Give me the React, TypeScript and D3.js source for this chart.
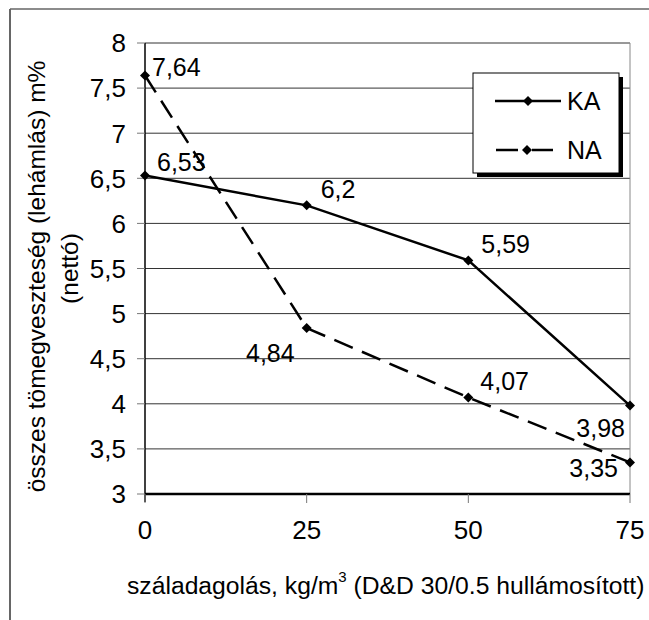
import React from "react";
import * as d3 from "d3";

const doses = [0, 25, 50, 75];
const kaValues = [6.53, 6.2, 5.59, 3.98];
const naValues = [7.64, 4.84, 4.07, 3.35];
const kaLabels = ["6,53", "6,2", "5,59", "3,98"];
const naLabels = ["7,64", "4,84", "4,07", "3,35"];
const yTicks = [3, 3.5, 4, 4.5, 5, 5.5, 6, 6.5, 7, 7.5, 8];
const xTicks = [0, 25, 50, 75];
const seriesNames = ["KA", "NA"];

const W = 649;
const H = 620;
const left = 145;
const right = 630;
const top = 43;
const bottom = 494;
const FONT = "Arial, 'Liberation Sans', sans-serif";

// label offsets [dx, dy, anchor]
const kaOffsets: [number, number, string][] = [
  [12, -5, "start"],
  [14, -7, "start"],
  [13, -7, "start"],
  [-5, 31, "end"],
];
const naOffsets: [number, number, string][] = [
  [7, 1, "start"],
  [-12, 34, "end"],
  [12, -7, "start"],
  [-12, 15, "end"],
];

function Diamond({ cx, cy }: { cx: number; cy: number }) {
  const s = 5;
  return (
    <path
      d={`M${cx},${cy - s}L${cx + s},${cy}L${cx},${cy + s}L${cx - s},${cy}Z`}
      fill="#000"
    />
  );
}

export default function App() {
  const x = d3.scaleLinear().domain([0, 75]).range([left, right]);
  const y = d3.scaleLinear().domain([3, 8]).range([bottom, top]);
  const line = d3
    .line<number>()
    .x((_, i) => x(doses[i]))
    .y((v) => y(v));

  const fmt = (v: number) => String(v).replace(".", ",");

  return (
    <svg
      width={W}
      height={H}
      style={{ position: "absolute", left: 0, top: 0, background: "#fff" }}
      fontFamily={FONT}
    >
      <rect x={0} y={0} width={W} height={H} fill="#fff" />
      {/* outer frame */}
      <line x1={10} y1={9} x2={W} y2={9} stroke="#666" strokeWidth={1.5} />
      <line x1={10} y1={9} x2={10} y2={H} stroke="#666" strokeWidth={2} />

      {/* gridlines */}
      {yTicks.map((t) => (
        <line
          key={"g" + t}
          x1={left}
          x2={right}
          y1={y(t)}
          y2={y(t)}
          stroke="#333"
          strokeWidth={1}
        />
      ))}
      {/* right plot border */}
      <line x1={right} x2={right} y1={top} y2={bottom} stroke="#888" strokeWidth={1} />

      {/* y axis */}
      <line x1={left} x2={left} y1={top} y2={bottom + 8} stroke="#000" strokeWidth={1.5} />
      {yTicks.map((t) => (
        <g key={"yt" + t}>
          <line x1={137} x2={left} y1={y(t)} y2={y(t)} stroke="#777" strokeWidth={1} />
          <text
            x={126}
            y={y(t)}
            dy="0.36em"
            textAnchor="end"
            fontSize={26}
            fill="#000"
          >
            {fmt(t)}
          </text>
        </g>
      ))}

      {/* x axis */}
      <line x1={left} x2={right} y1={bottom} y2={bottom} stroke="#000" strokeWidth={2.5} />
      {xTicks.map((t) => (
        <g key={"xt" + t}>
          <line x1={x(t)} x2={x(t)} y1={bottom} y2={bottom + 9} stroke="#777" strokeWidth={1} />
          <text x={x(t)} y={539} textAnchor="middle" fontSize={26} fill="#000">
            {t}
          </text>
        </g>
      ))}

      {/* series */}
      <path d={line(kaValues) || ""} fill="none" stroke="#000" strokeWidth={2.5} />
      <path
        d={line(naValues) || ""}
        fill="none"
        stroke="#000"
        strokeWidth={2.5}
        strokeDasharray="20,10"
      />
      {kaValues.map((v, i) => (
        <Diamond key={"kd" + i} cx={x(doses[i])} cy={y(v)} />
      ))}
      {naValues.map((v, i) => (
        <Diamond key={"nd" + i} cx={x(doses[i])} cy={y(v)} />
      ))}

      {/* data labels */}
      {kaValues.map((v, i) => (
        <text
          key={"kl" + i}
          x={x(doses[i]) + kaOffsets[i][0]}
          y={y(v) + kaOffsets[i][1]}
          textAnchor={kaOffsets[i][2] as any}
          fontSize={25}
          fill="#000"
        >
          {kaLabels[i]}
        </text>
      ))}
      {naValues.map((v, i) => (
        <text
          key={"nl" + i}
          x={x(doses[i]) + naOffsets[i][0]}
          y={y(v) + naOffsets[i][1]}
          textAnchor={naOffsets[i][2] as any}
          fontSize={25}
          fill="#000"
        >
          {naLabels[i]}
        </text>
      ))}

      {/* legend */}
      <rect x={477} y={77} width={146} height={100} fill="#000" />
      <rect x={473} y={73} width={146} height={100} fill="#fff" stroke="#000" strokeWidth={1} />
      <line x1={495} x2={561} y1={101} y2={101} stroke="#000" strokeWidth={2.5} />
      <Diamond cx={528} cy={101} />
      <text x={567} y={101} dy="0.36em" fontSize={25} fill="#000">
        {seriesNames[0]}
      </text>
      <line x1={496} x2={518} y1={150} y2={150} stroke="#000" strokeWidth={2.5} />
      <line x1={532} x2={553} y1={150} y2={150} stroke="#000" strokeWidth={2.5} />
      <Diamond cx={527} cy={150} />
      <text x={567} y={150} dy="0.36em" fontSize={25} fill="#000">
        {seriesNames[1]}
      </text>

      {/* y axis title */}
      <text
        transform={`translate(36,${(top + bottom) / 2 + 8}) rotate(-90)`}
        textAnchor="middle"
        dy="0.36em"
        fontSize={24.5}
        fill="#000"
      >
        összes tömegveszteség (lehámlás) m%
      </text>
      <text
        transform={`translate(69,${(top + bottom) / 2}) rotate(-90)`}
        textAnchor="middle"
        dy="0.36em"
        fontSize={24.5}
        fill="#000"
      >
        (nettó)
      </text>

      {/* x axis title */}
      <text x={127} y={594} fontSize={24.7} fill="#000">
        száladagolás, kg/m
        <tspan dy={-12} fontSize={15}>3</tspan>
        <tspan dy={12}> (D&amp;D 30/0.5 hullámosított)</tspan>
      </text>
    </svg>
  );
}
